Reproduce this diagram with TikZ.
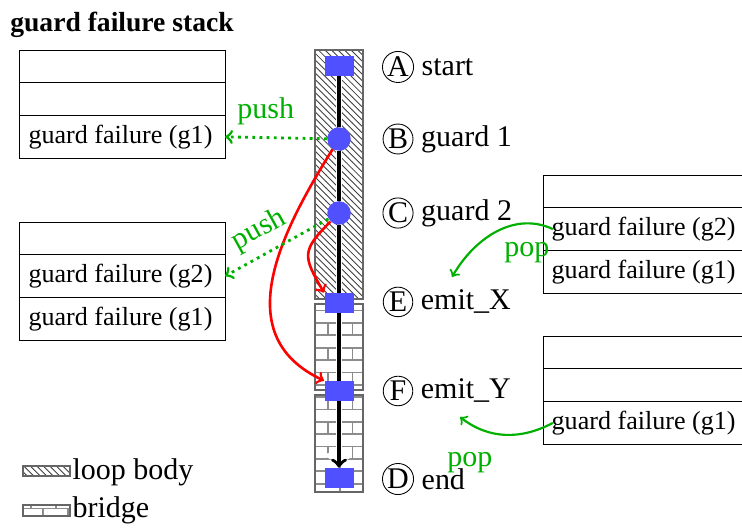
\documentclass[tikz,border=0pt]{standalone}
\usepackage{fontspec}
\setmainfont{Liberation Serif}
\usetikzlibrary{positioning,patterns}

\definecolor{markblue}{RGB}{80,80,255}
\definecolor{opgreen}{RGB}{0,176,0}

\tikzset{
  slot/.style={draw,outer sep=0pt,inner sep=0pt,minimum width=3.32cm,minimum height=0.53cm},
  entry/.style={slot,minimum height=0.69cm,inner xsep=0.14cm,font=\fontsize{12}{14}\selectfont,
    execute at begin node={\hbox to 3.04cm\bgroup},execute at end node={\hfil\egroup}},
  loopbody/.style={draw=black!60,line width=0.8pt,pattern=north west lines,pattern color=black!75},
  bridge/.style={draw=black!60,line width=0.8pt,pattern=bricks,pattern color=black!45},
  blk/.style={rectangle,fill=markblue,minimum width=0.47cm,minimum height=0.32cm,inner sep=0pt},
  grd/.style={circle,fill=markblue,minimum size=0.38cm,inner sep=0pt},
  tag/.style={circle,draw,inner sep=0.3pt,minimum size=13.6pt},
  trace/.style={preaction={draw=white,line width=3pt},line width=1.6pt},
  fail/.style={red,line width=1.2pt,-to},
  pushline/.style={opgreen,line width=1.3pt,dotted,-to},
  popline/.style={opgreen,line width=1pt,-to},
  oplabel/.style={opgreen,inner sep=1pt}
}

\begin{document}
\begin{tikzpicture}[font=\fontsize{13.8}{16}\selectfont]
\useasboundingbox (0,0) rectangle (12,8.523);

% title
\node[anchor=west,inner sep=0pt,font=\fontsize{12.7}{15}\selectfont\bfseries] (title) at (0.16,8.12) {guard failure stack};

% stacks on the left
\node[slot,anchor=north] (l1a) at (1.981,7.715) {};
\node[slot,below=0pt of l1a] (l1b) {};
\node[entry,below=0pt of l1b] (l1c) {guard failure (g1)};

\node[slot,anchor=north] (l2a) at (1.981,4.933) {};
\node[entry,below=0pt of l2a] (l2b) {guard failure (g2)};
\node[entry,below=0pt of l2b] (l2c) {guard failure (g1)};

% stacks on the right
\node[slot,anchor=north] (r1a) at (10.442,5.693) {};
\node[entry,below=0pt of r1a] (r1b) {guard failure (g2)};
\node[entry,below=0pt of r1b] (r1c) {guard failure (g1)};

\node[slot,anchor=north] (r2a) at (10.442,3.089) {};
\node[slot,below=0pt of r2a] (r2b) {};
\node[entry,below=0pt of r2b] (r2c) {guard failure (g1)};

% trace column
\draw[loopbody] (5.095,3.688) rectangle (5.871,7.715);
\draw[bridge] (5.095,2.216) rectangle (5.871,3.607);
\draw[bridge] (5.095,0.566) rectangle (5.871,2.135);

\node[blk] (A) at (5.483,7.456) {};
\node[grd] (B) at (5.483,6.275) {};
\node[grd] (C) at (5.483,5.078) {};
\node[blk] (E) at (5.483,3.623) {};
\node[blk] (F) at (5.483,2.200) {};
\node[blk] (D) at (5.483,0.792) {};

\foreach \a/\b in {A/B,B/C,C/E,E/F}
  \draw[trace] (\a) -- (\b);
\draw[trace,-to] (F) -- (D);

% points of the trace
\node[tag] (tA) at (6.437,7.44) {A};
\node[right=0pt of tA] (nA) {start};
\node[tag] (tB) at (6.437,6.275) {B};
\node[right=0pt of tB] (nB) {guard 1};
\node[tag] (tC) at (6.437,5.078) {C};
\node[right=0pt of tC] (nC) {guard 2};
\node[tag] (tE) at (6.437,3.64) {E};
\node[right=0pt of tE] (nE) {emit\_X};
\node[tag] (tF) at (6.437,2.2) {F};
\node[right=0pt of tF] (nF) {emit\_Y};
\node[tag] (tD) at (6.437,0.776) {D};
\node[right=0pt of tD] (nD) {end};

% guard failures
\draw[fail] (B) to[out=238,in=155,looseness=1.15] (F.north west);
\draw[fail] (C) to[out=225,in=120,looseness=1.5] (E.north west);

% push and pop
\draw[pushline] (B) -- (l1c.east) node[oplabel,pos=0.6,above=4pt] {push};
\draw[pushline] (C) -- (l2b.east) node[oplabel,pos=0.56,sloped,above=3pt] {push};

\coordinate (popE) at (7.31,4.043);
\coordinate (popF) at (7.44,1.779);
\draw[popline] ([xshift=0.16cm]r1b.west) to[out=155,in=60] (popE);
\node[oplabel] (pop1) at (8.52,4.44) {pop};
\draw[popline] ([xshift=0.16cm]r2c.west) to[out=208,in=-38] (popF);
\node[oplabel] (pop2) at (7.6,1.04) {pop};

% legend
\draw[loopbody] (0.372,0.825) rectangle (1.132,0.987);
\node[anchor=west,inner xsep=1pt] (lgloop) at (1.132,0.889) {loop body};
\draw[bridge] (0.372,0.178) rectangle (1.132,0.356);
\node[anchor=west,inner xsep=1pt] (lgbridge) at (1.132,0.275) {bridge};
\end{tikzpicture}
\end{document}
